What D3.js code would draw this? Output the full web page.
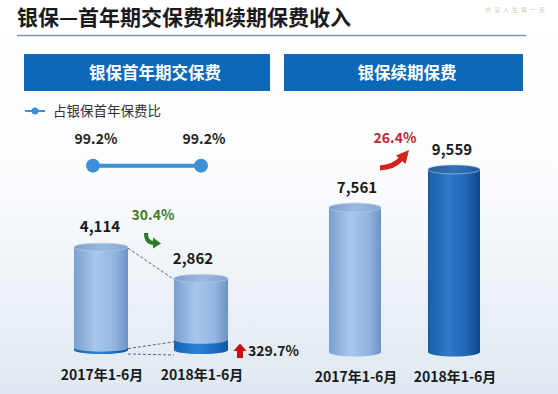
<!DOCTYPE html>
<html>
<head>
<meta charset="utf-8">
<script src="https://cdn.jsdelivr.net/npm/d3@7"></script>
<style>
  body { margin: 0; background: #fff; }
  svg { display: block; font-family: "Noto Sans CJK SC", "Noto Sans", sans-serif; }
</style>
</head>
<body>
<div id="chart"></div>
<script>
// data
var categories = ["2017年1-6月", "2018年1-6月"];
var firstYear = [4114, 2862];          // 银保首年期交保费
var firstYearDark = [95, 408];         // dark bottom part (grows 329.7%)
var renewal = [7561, 9559];            // 银保续期保费
var ratio = [99.2, 99.2];              // 占银保首年保费比
var growthLabels = {firstYear: "30.4%", dark: "329.7%", renewal: "26.4%"};

var W = 558, H = 394;
var svg = d3.select("#chart").append("svg").attr("width", W).attr("height", H);
var defs = svg.append("defs");

// background wash
var bg = defs.append("linearGradient").attr("id", "bg").attr("x1", 0).attr("y1", 0).attr("x2", 0).attr("y2", 1);
bg.append("stop").attr("offset", "0%").attr("stop-color", "#ffffff");
bg.append("stop").attr("offset", "45%").attr("stop-color", "#fbfcfe");
bg.append("stop").attr("offset", "100%").attr("stop-color", "#dfe8f1");
svg.append("rect").attr("width", W).attr("height", H).attr("fill", "url(#bg)");

function hGrad(id, stops) {
  var g = defs.append("linearGradient").attr("id", id).attr("x1", 0).attr("y1", 0).attr("x2", 1).attr("y2", 0);
  stops.forEach(function(s) { g.append("stop").attr("offset", s[0]).attr("stop-color", s[1]); });
}
hGrad("light", [["0%", "#7a9fd0"], ["40%", "#a9c7ec"], ["75%", "#93b5e0"], ["100%", "#6d93c6"]]);
hGrad("lightTop", [["0%", "#7f9fcb"], ["50%", "#9bb8df"], ["100%", "#86a6d2"]]);
hGrad("dark", [["0%", "#1a5ea8"], ["40%", "#2f7ac9"], ["75%", "#1e64b2"], ["100%", "#0e4890"]]);
hGrad("darkTop", [["0%", "#22609f"], ["50%", "#3670b5"], ["100%", "#1f5c9f"]]);
hGrad("band", [["0%", "#1664b6"], ["45%", "#2b82d4"], ["100%", "#0f58a8"]]);

// title
svg.append("text").attr("x", 17).attr("y", 25)
  .attr("font-size", 21).attr("font-weight", "bold").attr("fill", "#1a1a1a")
  .text("银保—首年期交保费和续期保费收入");
svg.append("line").attr("x1", 17).attr("x2", 526).attr("y1", 35.5).attr("y2", 35.5)
  .attr("stroke", "#7d97b2").attr("stroke-width", 1.5);
svg.append("text").attr("x", 548).attr("y", 12).attr("text-anchor", "end")
  .attr("font-size", 6).attr("letter-spacing", 3).attr("fill", "#b9d7ad")
  .text("共享人生每一天");

// panel headers
[[24, 270, "银保首年期交保费", 155], [284, 523, "银保续期保费", 407]].forEach(function(h) {
  svg.append("rect").attr("x", h[0]).attr("y", 54).attr("width", h[1] - h[0]).attr("height", 37)
    .attr("fill", "#0d68b9");
  svg.append("text").attr("x", h[3]).attr("y", 73).attr("dy", "0.35em").attr("text-anchor", "middle")
    .attr("font-size", 16.5).attr("font-weight", "bold").attr("fill", "#fff").text(h[2]);
});

// legend
svg.append("line").attr("x1", 25).attr("x2", 45).attr("y1", 111).attr("y2", 111)
  .attr("stroke", "#3d8fd6").attr("stroke-width", 2);
svg.append("circle").attr("cx", 35).attr("cy", 111).attr("r", 3.5).attr("fill", "#3d8fd6");
svg.append("text").attr("x", 53).attr("y", 111).attr("dy", "0.35em")
  .attr("font-size", 13.5).attr("fill", "#333").text("占银保首年保费比");

// scales
var xL = d3.scalePoint().domain(categories).range([51, 251]).padding(0.5);
var yL = d3.scaleLinear().domain([0, 4000]).range([350, 250]);
var xR = d3.scalePoint().domain(categories).range([305.5, 503.5]).padding(0.5);
var yR = d3.scaleLinear().domain([0, 10000]).range([352, 161]);
var xP = d3.scalePoint().domain(categories).range([39, 255]).padding(0.5);
var yP = d3.scaleLinear().domain([0, 100]).range([245, 165]);

// ratio line
var pts = categories.map(function(c, i) { return [xP(c), yP(ratio[i]), ratio[i]]; });
svg.append("path").attr("d", d3.line()(pts.map(function(p) { return [p[0], p[1]]; })))
  .attr("stroke", "#3d8fd6").attr("stroke-width", 4).attr("fill", "none");
svg.selectAll(".rdot").data(pts).enter().append("circle")
  .attr("cx", function(d) { return d[0]; }).attr("cy", function(d) { return d[1]; })
  .attr("r", 7).attr("fill", "#3d8fd6");
svg.selectAll(".rlab").data(pts).enter().append("text")
  .attr("x", function(d) { return d[0] + 3; }).attr("y", function(d) { return d[1] - 27; })
  .attr("dy", "0.35em").attr("text-anchor", "middle")
  .attr("font-size", 14).attr("font-weight", "bold").attr("fill", "#222")
  .text(function(d) { return d[2].toFixed(1) + "%"; });

// cylinder helper
function cylinder(g, cx, yTop, yBase, w, ry, body, top) {
  var l = cx - w / 2, r = cx + w / 2, rx = w / 2;
  g.append("path")
    .attr("d", "M" + l + "," + yTop + "L" + l + "," + yBase +
      "A" + rx + "," + ry + " 0 0 0 " + r + "," + yBase + "L" + r + "," + yTop + "Z")
    .attr("fill", body);
  g.append("ellipse").attr("cx", cx).attr("cy", yTop).attr("rx", rx).attr("ry", ry)
    .attr("fill", top).attr("stroke", "#b8cde8").attr("stroke-width", 0.6);
}
function band(g, cx, yTop, yBase, w, ry, fill) {
  var l = cx - w / 2, r = cx + w / 2, rx = w / 2;
  g.append("path")
    .attr("d", "M" + l + "," + yTop + "A" + rx + "," + ry + " 0 0 0 " + r + "," + yTop +
      "L" + r + "," + yBase + "A" + rx + "," + ry + " 0 0 1 " + l + "," + yBase + "Z")
    .attr("fill", fill);
}

// left panel bars
var gL = svg.append("g");
var wL = 54, ryL = 4;
categories.forEach(function(c, i) {
  cylinder(gL, xL(c), yL(firstYear[i]), yL(0), wL, ryL, "url(#light)", "url(#lightTop)");
  band(gL, xL(c), yL(firstYearDark[i]), yL(0), wL, ryL, "url(#band)");
});

// dashed connectors
var c0 = categories[0], c1 = categories[1];
var dash = [
  [xL(c0) + wL / 2, yL(firstYear[0]) + 1, xL(c1) - wL / 2, yL(firstYear[1]) + 1],
  [xL(c0) + wL / 2, yL(firstYearDark[0]) + 1, xL(c1) - wL / 2, yL(firstYearDark[1]) + 2],
  [xL(c0) + wL / 2, yL(0) + ryL, xL(c1) - wL / 2, yL(0) + ryL + 1]
];
gL.selectAll(".dash").data(dash).enter().append("line")
  .attr("x1", function(d) { return d[0]; }).attr("y1", function(d) { return d[1]; })
  .attr("x2", function(d) { return d[2]; }).attr("y2", function(d) { return d[3]; })
  .attr("stroke", "#4f6683").attr("stroke-width", 1).attr("stroke-dasharray", "3,2");

// left value labels
gL.selectAll(".vl").data(firstYear).enter().append("text")
  .attr("x", function(d, i) { return xL(categories[i]) - (i ? 8 : 1); })
  .attr("y", function(d) { return yL(d) - 20; }).attr("dy", "0.35em")
  .attr("text-anchor", "middle").attr("font-size", 15).attr("font-weight", "bold").attr("fill", "#1a1a1a")
  .text(function(d) { return d3.format(",")(d); });

// green 30.4% with arrow
svg.append("text").attr("x", 153).attr("y", 215).attr("dy", "0.35em").attr("text-anchor", "middle")
  .attr("font-size", 14).attr("font-weight", "bold").attr("fill", "#3d7d2a").text(growthLabels.firstYear);
svg.append("path").attr("d", "M146,233 Q146,243 154,243").attr("stroke", "#2f7a2a")
  .attr("stroke-width", 4).attr("fill", "none");
svg.append("path").attr("d", "M153,237.5 L161,243.5 L153,248.5 Z").attr("fill", "#2f7a2a");

// red up arrow + 329.7%
svg.append("path").attr("d", "M233.5,351 L240,343.5 L246.5,351 L243,351 L243,358 L237,358 L237,351 Z")
  .attr("fill", "#c80f0f");
svg.append("text").attr("x", 248).attr("y", 351).attr("dy", "0.35em")
  .attr("font-size", 14).attr("font-weight", "bold").attr("fill", "#1a1a1a").text(growthLabels.dark);

// right panel bars
var gR = svg.append("g");
var wR = 52, ryR = 4.5;
cylinder(gR, xR(c0), yR(renewal[0]), yR(0), wR, ryR, "url(#light)", "url(#lightTop)");
cylinder(gR, xR(c1), yR(renewal[1]), yR(0), wR, ryR, "url(#dark)", "url(#darkTop)");
gR.selectAll(".vr").data(renewal).enter().append("text")
  .attr("x", function(d, i) { return xR(categories[i]) + (i ? -2 : 2); })
  .attr("y", function(d) { return yR(d) - 20; }).attr("dy", "0.35em")
  .attr("text-anchor", "middle").attr("font-size", 15).attr("font-weight", "bold").attr("fill", "#1a1a1a")
  .text(function(d) { return d3.format(",")(d); });

// red 26.4% with arrow
svg.append("text").attr("x", 395).attr("y", 138).attr("dy", "0.35em").attr("text-anchor", "middle")
  .attr("font-size", 14).attr("font-weight", "bold").attr("fill", "#c0282a").text(growthLabels.renewal);
svg.append("path").attr("d", "M380,168 Q394,167 401,159").attr("stroke", "#d4221c")
  .attr("stroke-width", 5).attr("fill", "none");
svg.append("path").attr("d", "M396,155.5 L409,150 L405.5,164 Z").attr("fill", "#d4221c");

// category labels
[[xL, 375], [xR, 377]].forEach(function(s) {
  svg.selectAll(null).data(categories).enter().append("text")
    .attr("x", function(d) { return s[0](d) + 1; }).attr("y", s[1]).attr("dy", "0.35em")
    .attr("text-anchor", "middle").attr("font-size", 14).attr("font-weight", "bold").attr("fill", "#1a1a1a")
    .text(function(d) { return d; });
});
</script>
</body>
</html>
